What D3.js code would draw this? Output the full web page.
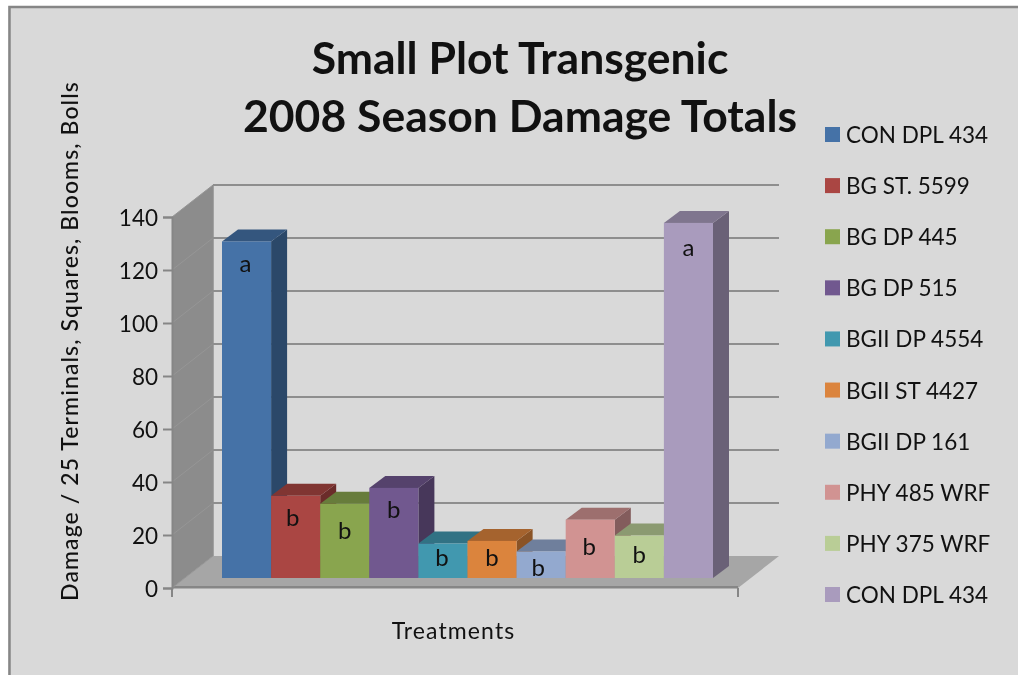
<!DOCTYPE html>
<html><head><meta charset="utf-8">
<script src="https://cdn.jsdelivr.net/npm/d3@7/dist/d3.min.js"></script>
<style>html,body{margin:0;padding:0;background:#fff}svg{display:block;filter:blur(0.45px)}text{font-family:Lato,"Open Sans",sans-serif;fill:#111}</style>
</head><body><svg id="c" width="1018" height="675"></svg>
<script>
const categories=["CON DPL 434","BG ST. 5599","BG DP 445","BG DP 515","BGII DP 4554","BGII ST 4427","BGII DP 161","PHY 485 WRF","PHY 375 WRF","CON DPL 434"];
const values=[127,31,28,34,13,14,10,22,16,134];
const letters=["a","b","b","b","b","b","b","b","b","a"];
const colors=["#4572a7","#aa4643","#89a54e","#71588f","#4198af","#db843d","#93a9cf","#d19392","#b9cd96","#a99bbd"];
const yTicks=[0,20,40,60,80,100,120,140];
const titleLines=["Small Plot Transgenic","2008 Season Damage Totals"];
const xTitle="Treatments";
const yTitle="Damage / 25 Terminals, Squares, Blooms, Bolls";

const letterDrop=[31,30,35,30,22,25,24,35,27,33];
const letterShift=[-1,-3,0,0,-1,0,-3,-1,0,0];
const svg=d3.select("#c");
const y=d3.scaleLinear().domain([0,140]).range([588,217]);
const x=d3.scaleBand().domain(d3.range(values.length)).range([222,713]).padding(0);
const depth={dx:41,dy:-32}, barD={dx:16,dy:-12}, barOff={dx:0,dy:-10};
const wallR=779, frontL=172, frontR=738;
const poly=(pts,fill,stroke)=>svg.append("path").attr("d","M"+pts.map(p=>p.join(",")).join("L")+"Z").attr("fill",fill).attr("stroke",stroke||"none");

// background and frame
svg.append("rect").attr("x",8).attr("y",6).attr("width",1010).attr("height",669).attr("fill","#d9d9d9");
svg.append("path").attr("d","M9.5,675V7H1018").attr("fill","none").attr("stroke","#868686").attr("stroke-width",2.5);

// left wall and floor
poly([[frontL,y(0)],[frontL+depth.dx,y(0)+depth.dy],[frontL+depth.dx,y(140)+depth.dy],[frontL,y(140)]],"#8c8c8c");
poly([[frontL,y(0)],[frontL+depth.dx,y(0)+depth.dy],[wallR,y(0)+depth.dy],[frontR,y(0)]],"#a6a6a6");
svg.append("rect").attr("x",frontL).attr("y",y(0)-2).attr("width",frontR-frontL).attr("height",2.5).attr("fill","#868686");

// gridlines on back wall and wall slants
yTicks.forEach(t=>{
  if(t>0) svg.append("line").attr("x1",frontL+depth.dx).attr("x2",wallR).attr("y1",y(t)+depth.dy).attr("y2",y(t)+depth.dy).attr("stroke","#8e8e8e").attr("stroke-width",2);
  svg.append("line").attr("x1",frontL).attr("x2",frontL+depth.dx).attr("y1",y(t)).attr("y2",y(t)+depth.dy).attr("stroke","#969696").attr("stroke-width",1);
});
svg.append("line").attr("x1",frontL+depth.dx).attr("x2",frontL+depth.dx).attr("y1",y(0)+depth.dy).attr("y2",y(140)+depth.dy).attr("stroke","#8e8e8e").attr("stroke-width",1.5);

// y axis
const ax=svg.append("g").attr("transform",`translate(${frontL},0)`).call(d3.axisLeft(y).tickValues(yTicks).tickSize(9).tickPadding(5));
ax.select(".domain").attr("stroke","#868686").attr("stroke-width",2);
ax.selectAll(".tick line").attr("stroke","#868686").attr("stroke-width",2);
ax.selectAll("text").attr("y",1).style("font-size","22.5px").style("font-family","Lato,sans-serif").attr("fill","#111");
// x axis ticks at ends
[frontL,frontR].forEach(px=>svg.append("line").attr("x1",px).attr("x2",px).attr("y1",588).attr("y2",597).attr("stroke","#868686").attr("stroke-width",2));

// bars: painted left to right, each front face covers the side of the previous bar
const base=y(0)+barOff.dy;
const unit=y(0)-y(1);
d3.range(values.length).forEach(i=>{
  const x0=x(i), x1=x0+x.bandwidth(), top=base-values[i]*unit, c=d3.color(colors[i]);
  poly([[x1,base],[x1+barD.dx,base+barD.dy],[x1+barD.dx,top+barD.dy],[x1,top]],c.darker(1.3).formatHex());
  poly([[x0,top],[x0+barD.dx,top+barD.dy],[x1+barD.dx,top+barD.dy],[x1,top]],c.darker(0.8).formatHex());
  svg.append("rect").attr("x",x0).attr("y",top).attr("width",x.bandwidth()).attr("height",base-top).attr("fill",colors[i]);
});
d3.range(values.length).forEach(i=>{
  const top=base-values[i]*unit;
  svg.append("text").attr("x",x(i)+x.bandwidth()/2+letterShift[i]).attr("y",top+letterDrop[i]).attr("text-anchor","middle").style("font-size","24px").text(letters[i]);
});

// titles
svg.selectAll(".t").data(titleLines).join("text").attr("x",520).attr("y",(d,i)=>74+i*58).attr("text-anchor","middle").style("font-size","44.5px").style("font-weight","700").text(d=>d);
svg.append("text").attr("x",453.5).attr("y",638.5).attr("text-anchor","middle").style("font-size","23px").style("letter-spacing","1.1px").text(xTitle);
svg.append("text").attr("transform","translate(78,341) rotate(-90)").attr("text-anchor","middle").style("font-size","23px").style("font-weight","500").style("letter-spacing","1.1px").text(yTitle);

// legend
const ly=d3.scalePoint().domain(d3.range(categories.length)).range([135,595]);
categories.forEach((c,i)=>{
  svg.append("rect").attr("x",825).attr("y",ly(i)-8).attr("width",15).attr("height",15).attr("fill",colors[i]);
  svg.append("text").attr("x",846).attr("y",ly(i)+8).style("font-size","22.5px").text(c);
});
</script></body></html>
